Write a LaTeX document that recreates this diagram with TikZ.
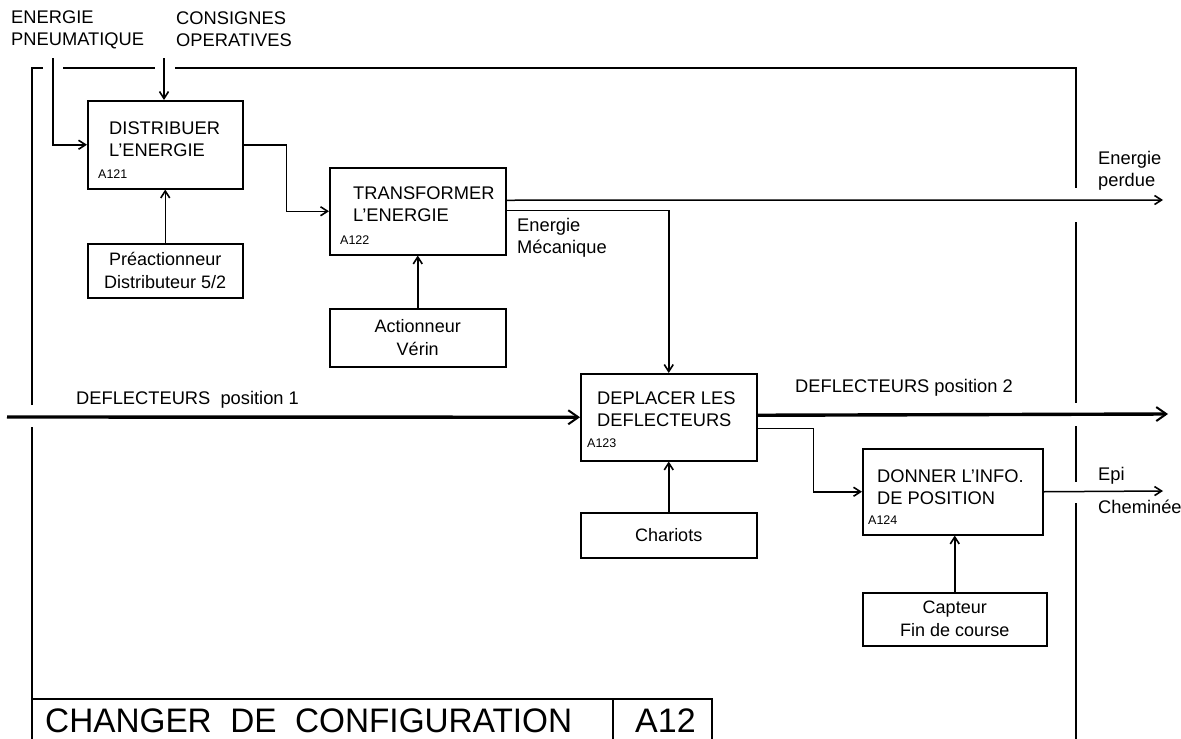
\documentclass[tikz,border=0pt]{standalone}
\usepackage{fontspec}
\setmainfont{Liberation Sans}
\usetikzlibrary{arrows.meta}
\begin{document}
\begin{tikzpicture}[x=1pt,y=-1pt,
  box/.style={draw,line width=1.5pt,inner sep=0pt,anchor=north west},
  txt/.style={inner sep=0pt,anchor=west,align=left,font=\fontsize{18.3}{22}\selectfont},
  ctxt/.style={inner sep=0pt,align=center,font=\fontsize{18}{23}\selectfont},
  code/.style={inner sep=0pt,anchor=west,font=\fontsize{12.5}{14}\selectfont},
  frame/.style={line width=1.5pt},
  flow/.style={line width=1.5pt,-{Straight Barb[length=7pt,width=9pt,line width=1.6pt]}},
  heavy/.style={line width=3.4pt,-{Straight Barb[length=10pt,width=14pt,line width=2pt]}}]
\useasboundingbox (0,0) rectangle (1181,739);
% frame
\draw[frame] (32,739) -- (32,427);
\draw[frame] (32,405) -- (32,68) -- (43,68);
\draw[frame] (63,68) -- (155,68);
\draw[frame] (175,68) -- (1076,68) -- (1076,188);
\draw[frame] (1076,222) -- (1076,403);
\draw[frame] (1076,426) -- (1076,482);
\draw[frame] (1076,503) -- (1076,739);
% title block
\draw[frame] (32,699) -- (712,699) -- (712,739);
\draw[frame] (613,699) -- (613,739);
\node[inner sep=0pt,anchor=west,xscale=0.98,font=\fontsize{34}{36}\selectfont] (title) at (45,721) {CHANGER\ \ DE\ \ CONFIGURATION};
\node[inner sep=0pt,anchor=west,font=\fontsize{34}{36}\selectfont] (titlecode) at (635,721) {A12};
% top labels
\node[txt] (lpn) at (11,29.5) {ENERGIE\\PNEUMATIQUE};
\node[txt] (lcs) at (176,29.5) {CONSIGNES\\OPERATIVES};
% boxes
\node[box,minimum width=155pt,minimum height=88pt] (a121) at (87,100) {};
\node[txt] (t121) at (109,139) {DISTRIBUER\\L'ENERGIE};
\node[code] (c121) at (98,174) {A121};
\node[box,minimum width=155pt,minimum height=54pt] (pre) at (87,243) {};
\node[ctxt] (tpre) at (pre.center) {Préactionneur\\Distributeur 5/2};
\node[box,minimum width=176pt,minimum height=87pt] (a122) at (329,167) {};
\node[txt] (t122) at (353,204) {TRANSFORMER\\L'ENERGIE};
\node[code] (c122) at (340,240) {A122};
\node[box,minimum width=176pt,minimum height=58pt] (act) at (329,308) {};
\node[ctxt] (tact) at (act.center) {Actionneur\\Vérin};
\node[box,minimum width=176pt,minimum height=87pt] (a123) at (580,373) {};
\node[txt] (t123) at (597,409) {DEPLACER LES\\DEFLECTEURS};
\node[code] (c123) at (587,443) {A123};
\node[box,minimum width=176pt,minimum height=45pt] (char) at (580,512) {};
\node[ctxt] (tchar) at (char.center) {Chariots};
\node[box,minimum width=180pt,minimum height=86pt] (a124) at (862,448) {};
\node[txt] (t124) at (877,487) {DONNER L'INFO.\\DE POSITION};
\node[code] (c124) at (868,520) {A124};
\node[box,minimum width=184pt,minimum height=53pt] (capt) at (862,592) {};
\node[ctxt] (tcapt) at (capt.center) {Capteur\\Fin de course};
% side labels
\node[txt] (lmec) at (517,238) {Energie\\Mécanique};
\node[txt] (lper) at (1098,171) {Energie\\perdue};
\node[txt] (ld1) at (76,400) {DEFLECTEURS\ \ position 1};
\node[txt] (ld2) at (795,388) {DEFLECTEURS position 2};
\node[txt] (lepi) at (1098,476) {Epi};
\node[txt] (lche) at (1098,507) {Cheminée};
% free ends
\coordinate (pn) at (53,58);
\coordinate (cs) at (164,58);
\coordinate (pe) at (1163,200);
\coordinate (d1) at (7,417);
\coordinate (d2) at (1168,414);
\coordinate (epi) at (1163,491);
% connectors
\draw[flow] (pn) |- (a121.west);
\draw[flow] (cs) -- (cs |- a121.north);
\draw[flow] (a121.east) -- ++(43,0) |- (a122.west);
\draw[flow] (pre.north) -- (a121.south);
\draw[flow] (act.north) -- (a122.south);
\draw[flow] ([yshift=11pt]a122.east) -- (pe);
\draw[flow] ([yshift=1pt]a122.east) -| (a123.north);
\draw[heavy] (d1) -- (a123.west);
\draw[heavy] ([yshift=2pt]a123.east) -- (d2);
\draw[flow] ([yshift=-11pt]a123.east) -- ++(56,0) |- (a124.west);
\draw[flow] (char.north) -- (a123.south);
\draw[flow] (a124.east) -- (epi);
\draw[flow] (capt.north) -- (capt.north |- a124.south);
\end{tikzpicture}
\end{document}
